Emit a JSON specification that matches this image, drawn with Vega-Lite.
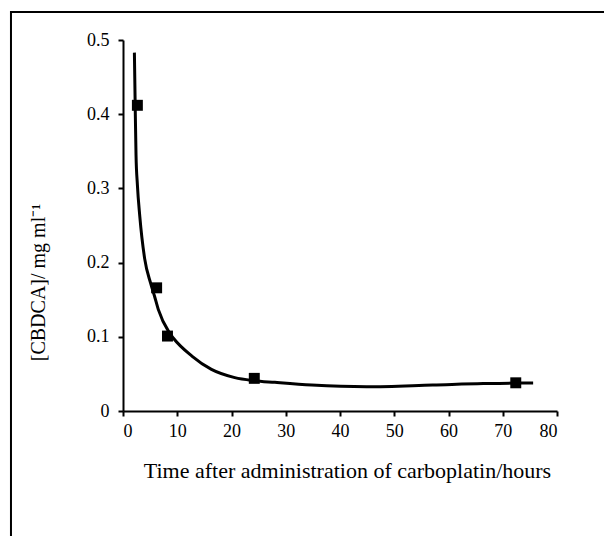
{
  "$schema": "https://vega.github.io/schema/vega-lite/v6.json",
  "width": 434,
  "height": 371,
  "autosize": "none",
  "padding": {"left": 123, "top": 40, "right": 47, "bottom": 125},
  "background": "white",
  "config": {
    "view": {"stroke": null},
    "axis": {
      "grid": false,
      "domainColor": "black",
      "domainWidth": 2,
      "tickColor": "black",
      "tickWidth": 2,
      "tickSize": 5,
      "labelColor": "black",
      "labelFont": "Liberation Serif",
      "labelFontSize": 18,
      "titleColor": "black",
      "titleFont": "Liberation Serif",
      "titleFontSize": 20,
      "titleFontWeight": "normal"
    }
  },
  "datasets": {
    "measured": [
      {"time": 2.65, "conc": 0.412},
      {"time": 6.2, "conc": 0.166},
      {"time": 8.2, "conc": 0.101},
      {"time": 24.2, "conc": 0.044},
      {"time": 72.4, "conc": 0.038}
    ],
    "fit": [
      {"time": 2.1, "conc": 0.483},
      {"time": 2.25, "conc": 0.41},
      {"time": 2.4, "conc": 0.345},
      {"time": 2.65, "conc": 0.305},
      {"time": 3.1, "conc": 0.262},
      {"time": 4.0, "conc": 0.205},
      {"time": 5.1, "conc": 0.172},
      {"time": 5.8, "conc": 0.155},
      {"time": 6.5, "conc": 0.137},
      {"time": 8.5, "conc": 0.106},
      {"time": 9.3, "conc": 0.098},
      {"time": 12.7, "conc": 0.074},
      {"time": 16.3, "conc": 0.056},
      {"time": 20.6, "conc": 0.045},
      {"time": 24.0, "conc": 0.041},
      {"time": 28.0, "conc": 0.0386},
      {"time": 34.8, "conc": 0.035},
      {"time": 44.9, "conc": 0.0327},
      {"time": 57.1, "conc": 0.035},
      {"time": 66.4, "conc": 0.037},
      {"time": 72.4, "conc": 0.0376},
      {"time": 75.6, "conc": 0.0376}
    ],
    "frame": [{"left": -20.65, "right": 100, "top": 0.5377, "bottom": -0.2}]
  },
  "layer": [
    {
      "data": {"name": "frame"},
      "mark": {"type": "rect", "fill": "white", "fillOpacity": 0, "stroke": "black", "strokeWidth": 2},
      "encoding": {
        "x": {"field": "left", "type": "quantitative"},
        "x2": {"field": "right"},
        "y": {"field": "top", "type": "quantitative"},
        "y2": {"field": "bottom"}
      }
    },
    {
      "data": {"name": "fit"},
      "mark": {"type": "line", "color": "black", "strokeWidth": 3, "interpolate": "monotone"},
      "encoding": {
        "x": {
          "field": "time",
          "type": "quantitative",
          "scale": {"domain": [0, 80], "nice": false, "zero": false},
          "axis": {
            "values": [0, 10, 20, 30, 40, 50, 60, 70, 80],
            "labelPadding": 6,
            "title": "Time after administration of carboplatin/hours",
            "titleFontSize": 22,
            "titleX": 224,
            "titleY": 66,
            "titleBaseline": "alphabetic"
          }
        },
        "y": {
          "field": "conc",
          "type": "quantitative",
          "scale": {"domain": [0, 0.5], "nice": false, "zero": false},
          "axis": {
            "values": [0, 0.1, 0.2, 0.3, 0.4, 0.5],
            "format": ".1~f",
            "labelPadding": 9,
            "title": "[CBDCA]/ mg ml⁻¹",
            "titleX": -79,
            "titleY": 242,
            "titleAngle": -90,
            "titleBaseline": "alphabetic",
            "titleAlign": "center"
          }
        }
      }
    },
    {
      "data": {"name": "measured"},
      "mark": {"type": "point", "shape": "square", "filled": true, "color": "black", "opacity": 1, "size": 120},
      "encoding": {
        "x": {"field": "time", "type": "quantitative"},
        "y": {"field": "conc", "type": "quantitative"}
      }
    }
  ]
}
